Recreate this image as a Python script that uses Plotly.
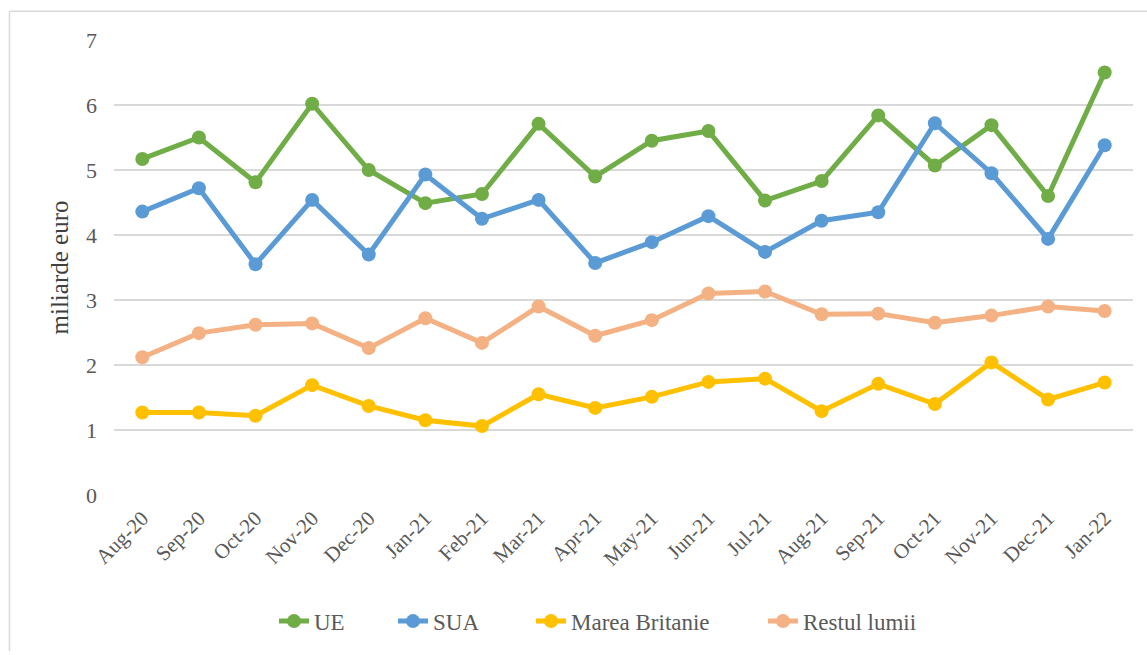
import plotly.graph_objects as go

months = ["Aug-20", "Sep-20", "Oct-20", "Nov-20", "Dec-20", "Jan-21", "Feb-21", "Mar-21", "Apr-21",
          "May-21", "Jun-21", "Jul-21", "Aug-21", "Sep-21", "Oct-21", "Nov-21", "Dec-21", "Jan-22"]
ue = [5.17, 5.50, 4.81, 6.02, 5.00, 4.49, 4.63, 5.71, 4.90, 5.45, 5.60, 4.53, 4.83, 5.84, 5.07, 5.69, 4.60, 6.50]
sua = [4.36, 4.72, 3.55, 4.54, 3.70, 4.93, 4.25, 4.54, 3.57, 3.89, 4.29, 3.74, 4.22, 4.35, 5.72, 4.95, 3.94, 5.38]
marea_britanie = [1.27, 1.27, 1.22, 1.69, 1.37, 1.15, 1.06, 1.55, 1.34, 1.51, 1.74, 1.79, 1.29, 1.71, 1.40, 2.04, 1.47, 1.73]
restul_lumii = [2.12, 2.49, 2.62, 2.64, 2.26, 2.72, 2.34, 2.90, 2.45, 2.69, 3.10, 3.13, 2.78, 2.79, 2.65, 2.76, 2.90, 2.83]

series = [("UE", ue, "#70AD47"), ("SUA", sua, "#5B9BD5"),
          ("Marea Britanie", marea_britanie, "#FFC000"), ("Restul lumii", restul_lumii, "#F4B183")]

FONT = "'Liberation Serif', 'Times New Roman', 'DejaVu Serif', serif"
W, H = 1147, 655
L, R, T, B = 114, 14, 40, 157
pw, ph = W - L - R, H - T - B

def px(x):
    return (x - L) / pw

def py(y):
    return (H - B - y) / ph

legend_ids = ["legend", "legend2", "legend3", "legend4"]
legend_text_x = [316, 435, 573, 805]

fig = go.Figure()
for (name, vals, col), lid in zip(series, legend_ids):
    fig.add_trace(go.Scatter(x=months, y=vals, name=name, mode="lines+markers",
                             line=dict(color=col, width=5),
                             marker=dict(color=col, size=14), legend=lid))

legend_layout = {}
for lid, tx in zip(legend_ids, legend_text_x):
    legend_layout[lid] = dict(x=px(tx - 42), xanchor="left", y=py(625), yanchor="middle",
                              orientation="h", bgcolor="rgba(0,0,0,0)",
                              font=dict(family=FONT, size=23, color="#595959"))

fig.update_layout(
    width=W, height=H,
    margin=dict(l=L, r=R, t=T, b=B),
    paper_bgcolor="white", plot_bgcolor="white",
    font=dict(family=FONT, color="#595959", size=21),
    showlegend=True,
    xaxis=dict(type="category", range=[-0.5, 17.5], showgrid=False, zeroline=False,
               showline=False, ticks="", tickangle=-45, ticklabelstandoff=6,
               tickfont=dict(family=FONT, size=21, color="#595959")),
    yaxis=dict(range=[0, 7], dtick=1, showgrid=True, gridcolor="#D9D9D9", gridwidth=1.5,
               zeroline=False, showline=False, ticks="", ticklabelstandoff=16,
               tickfont=dict(family=FONT, size=22, color="#595959"),
               title=dict(text="miliarde euro", font=dict(family=FONT, size=25, color="#404040"),
                          standoff=10)),
    shapes=[
        dict(type="line", xref="paper", yref="paper", x0=px(9.5), x1=px(W), y0=py(11), y1=py(11),
             line=dict(color="#D9D9D9", width=1.5)),
        dict(type="line", xref="paper", yref="paper", x0=px(9.5), x1=px(9.5), y0=py(11), y1=py(H),
             line=dict(color="#D9D9D9", width=1.5)),
    ],
    **legend_layout,
)

fig.write_html("out.html", config={"displayModeBar": False},
               post_script="document.body.style.margin='0px';")
